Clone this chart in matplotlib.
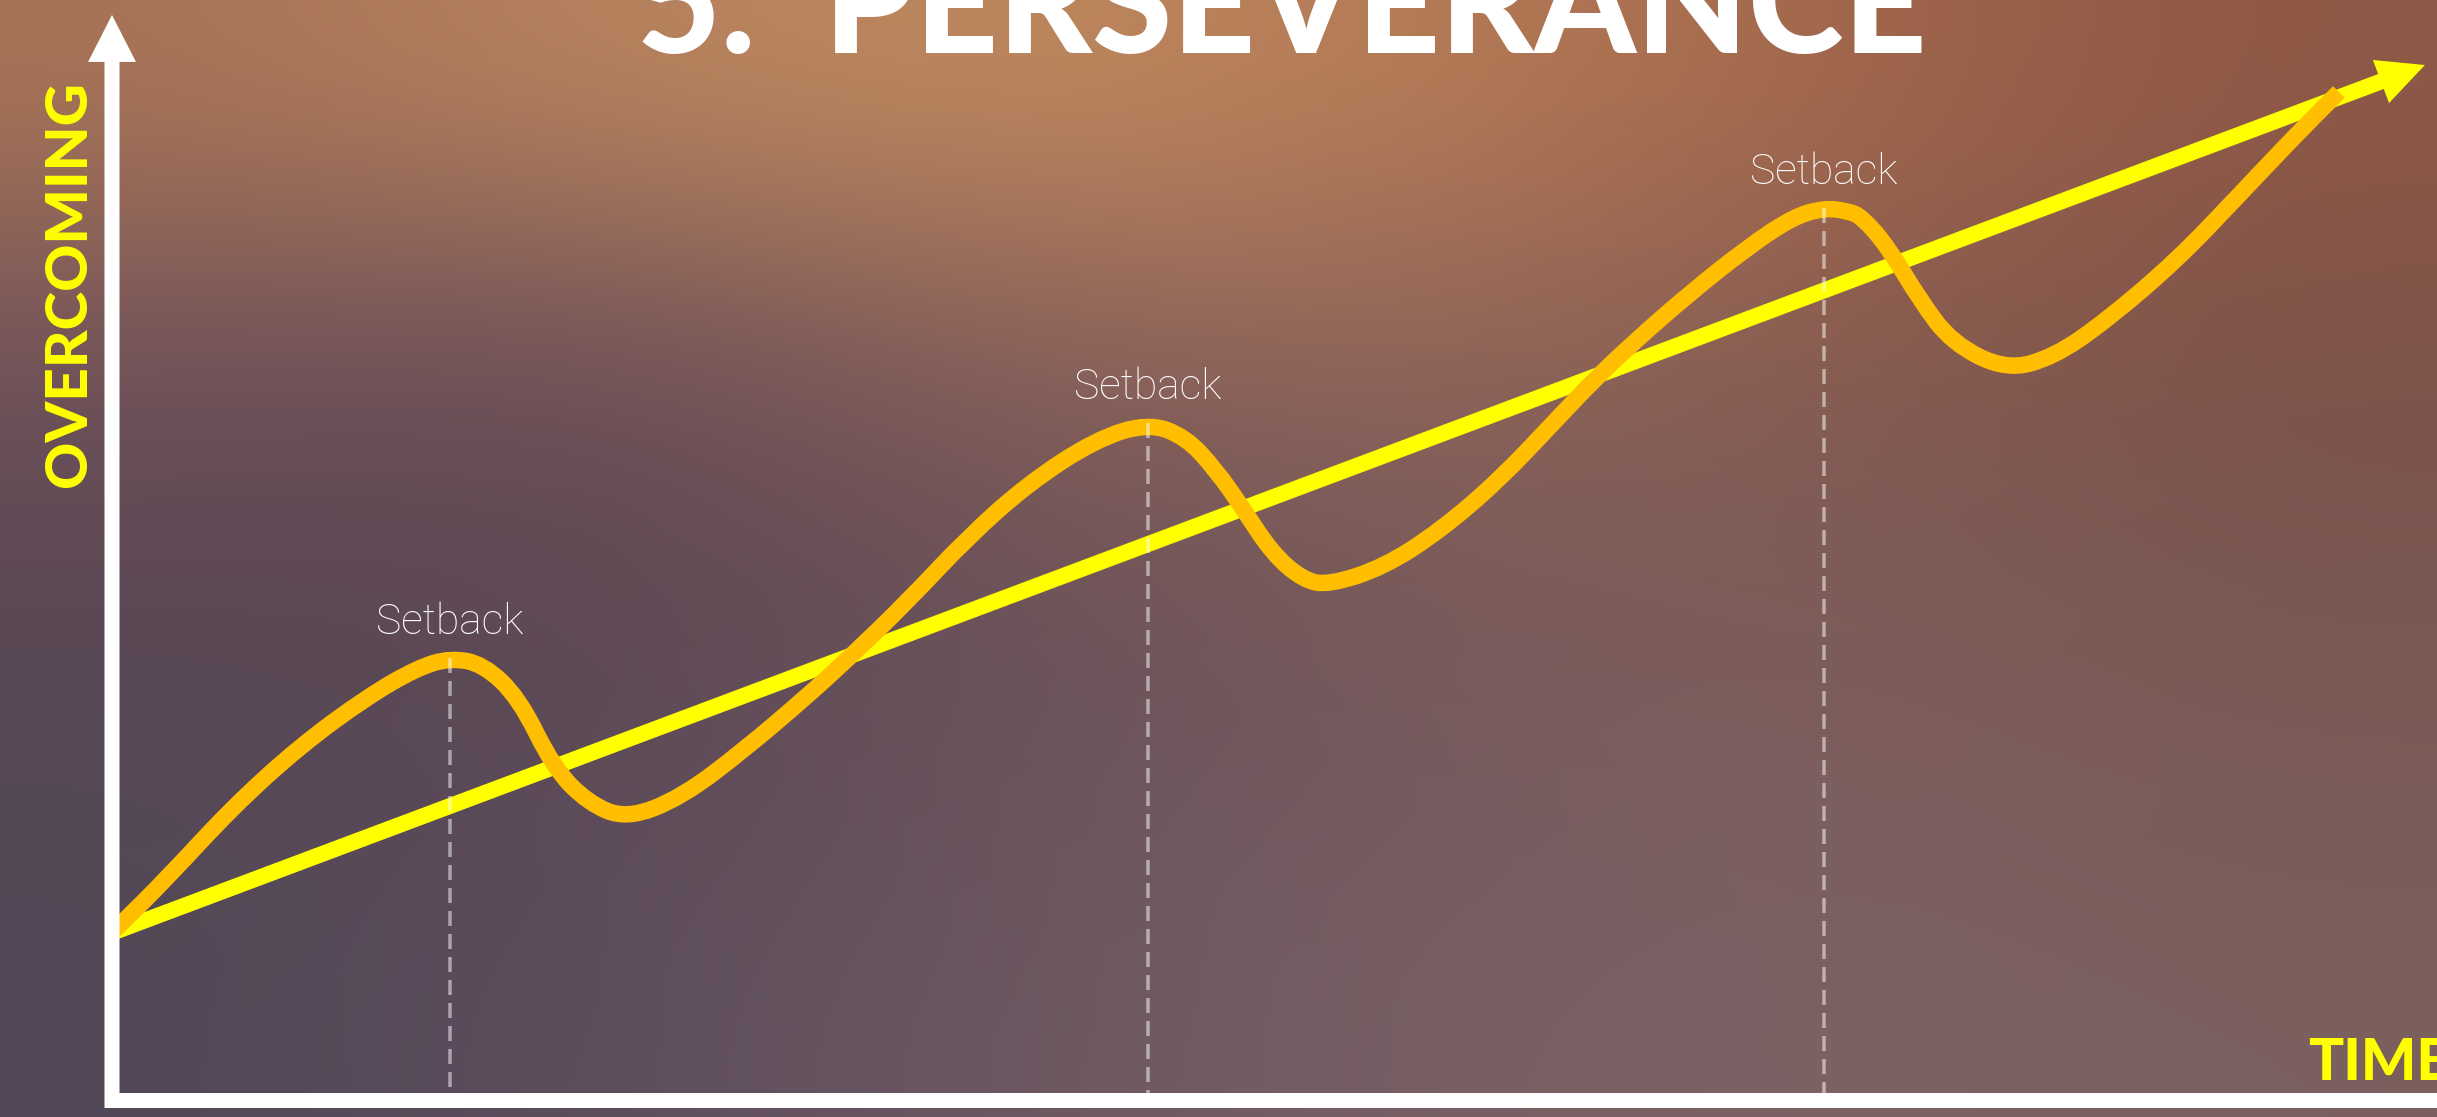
import numpy as np
import matplotlib
matplotlib.use("Agg")
import matplotlib.pyplot as plt
from matplotlib.colors import to_rgb
from matplotlib.patches import ArrowStyle, PathPatch
from matplotlib.path import Path

# ---------------- data ----------------
# journey curve (time, overcoming)
JOURNEY_T = [0.000, 0.034, 0.237, 0.520, 0.809, 1.097, 1.312, 1.454, 1.596, 1.751,
             1.897, 2.047, 2.215, 2.452, 2.718, 2.981, 3.174, 3.419, 3.682, 3.944,
             4.228, 4.456, 4.619, 4.748, 4.860, 4.989, 5.123, 5.234, 5.471, 5.716,
             5.966, 6.211, 6.374, 6.542, 6.787, 7.037, 7.230, 7.363, 7.467, 7.527,
             7.639, 7.776, 7.914, 8.146, 8.353, 8.581, 8.882, 9.157, 9.385, 9.578]
JOURNEY_V = [1.527, 1.591, 2.018, 2.664, 3.218, 3.664, 3.927, 4.018, 3.964, 3.655,
             3.027, 2.700, 2.555, 2.755, 3.182, 3.655, 4.027, 4.527, 5.118, 5.609,
             6.000, 6.155, 6.027, 5.727, 5.391, 4.973, 4.727, 4.682, 4.845, 5.182,
             5.636, 6.182, 6.545, 6.882, 7.336, 7.755, 8.027, 8.109, 8.082, 8.027,
             7.755, 7.273, 6.882, 6.636, 6.755, 7.091, 7.636, 8.245, 8.755, 9.164]

# steady progress line (start, end)
TREND_T = [0.0, 9.948]
TREND_V = [1.52, 9.409]

# setbacks (peaks)
SETBACK_T = [1.454, 4.456, 7.363]
SETBACK_V = [4.018, 6.155, 8.109]
SETBACK_LABEL = "Setback"

TITLE = "5.  PERSEVERANCE"
Y_LABEL = "OVERCOMING"
X_LABEL = "TIME"

# ---------------- style ----------------
W, H, DPI = 2437, 1117, 100
PX = 72.0 / DPI          # points per pixel
XLIM = (-0.4817, 10.0)
YLIM = (-0.1545, 10.0)

BG = [
    ["#A87456", "#B9845E", "#C08A5E", "#B67C56", "#A4684C", "#8E5846"],
    ["#74545A", "#6E5058", "#8C625A", "#94685C", "#885C50", "#7E5249"],
    ["#5C4855", "#5E4853", "#6C5258", "#7A5A58", "#7E5C58", "#7A5650"],
    ["#554856", "#5C4A58", "#6A545E", "#765C60", "#7E6060", "#7A5C58"],
    ["#524858", "#5E4E5E", "#6C5862", "#786064", "#7C6264", "#7A605E"],
]

ORANGE = "#FFBF00"
YELLOW = "#FFFF00"
WHITE = "#FFFFFF"
HEAVY = dict(family=["Lato", "DejaVu Sans"], fontweight="black")
LIGHT = dict(family=["Roboto", "DejaVu Sans"], fontweight="light")

plt.rcParams["lines.scale_dashes"] = False

fig = plt.figure(figsize=(W / DPI, H / DPI), dpi=DPI)
ax = fig.add_axes([0, 0, 1, 1])
ax.set_xlim(*XLIM)
ax.set_ylim(*YLIM)
ax.axis("off")

bg = np.array([[to_rgb(c) for c in row] for row in BG])
ax.imshow(bg, extent=[XLIM[0], XLIM[1], YLIM[0], YLIM[1]], origin="upper",
          aspect="auto", interpolation="bicubic", zorder=0)

# trend arrow
ax.annotate("", xy=(TREND_T[1], TREND_V[1]), xytext=(TREND_T[0], TREND_V[0]),
            arrowprops=dict(arrowstyle=ArrowStyle.Simple(head_length=1.0, head_width=0.98,
                                                         tail_width=0.34),
                            mutation_scale=33.8, fc=YELLOW, ec="none", lw=0,
                            shrinkA=0, shrinkB=0), zorder=3)

# journey curve, drawn as a smooth quadratic path through the read points
pts = np.column_stack([JOURNEY_T, JOURNEY_V])
verts = [pts[0], (pts[0] + pts[1]) / 2]
codes = [Path.MOVETO, Path.LINETO]
for i in range(1, len(pts) - 1):
    verts += [pts[i], (pts[i] + pts[i + 1]) / 2]
    codes += [Path.CURVE3, Path.CURVE3]
verts.append(pts[-1])
codes.append(Path.LINETO)
ax.add_patch(PathPatch(Path(verts, codes), fill=False, ec=ORANGE, lw=16.5 * PX,
                       capstyle="butt", joinstyle="round", zorder=4))

# setback markers
labels = []
for t, v in zip(SETBACK_T, SETBACK_V):
    ax.plot([t, t], [v, 0], color=WHITE, alpha=0.5, lw=3.5 * PX,
            linestyle=(0, (15 * PX, 8 * PX)), zorder=5)
    labels.append(ax.annotate(SETBACK_LABEL, xy=(t, v), xytext=(0, 24 * PX),
                              textcoords="offset points", ha="center", va="baseline",
                              color=WHITE, fontsize=30, zorder=6, **LIGHT))

# axes
ax.plot([-0.030, XLIM[1] + 0.2], [0, 0], color=WHITE, lw=15 * PX,
        solid_capstyle="butt", zorder=7, clip_on=False)
ax.annotate("", xy=(0, 9.864), xytext=(0, -0.0727),
            arrowprops=dict(arrowstyle=ArrowStyle.Simple(head_length=1.0, head_width=1.02,
                                                         tail_width=0.32),
                            mutation_scale=33.8, fc=WHITE, ec="none", lw=0,
                            shrinkA=0, shrinkB=0), zorder=7)

title = ax.text(5.032, 9.518, TITLE, ha="center", va="baseline", color=WHITE,
                fontsize=110, zorder=8, **HEAVY)
ylab = ax.text(-0.112, 7.418, Y_LABEL, rotation=90, rotation_mode="anchor",
               ha="center", va="baseline", color=YELLOW, fontsize=42, zorder=8, **HEAVY)
xlab = ax.text(9.445, 0.182, X_LABEL, ha="left", va="baseline", color=YELLOW,
               fontsize=42, zorder=8, **HEAVY)

# fit text widths to reference
fig.canvas.draw()
r = fig.canvas.get_renderer()
bb = title.get_window_extent(r)
title.set_fontsize(title.get_fontsize() * 1290.0 / bb.width)
bb = labels[0].get_window_extent(r)
for lab in labels:
    lab.set_fontsize(lab.get_fontsize() * 148.0 / bb.width)

fig.savefig("out.png", dpi=DPI)
